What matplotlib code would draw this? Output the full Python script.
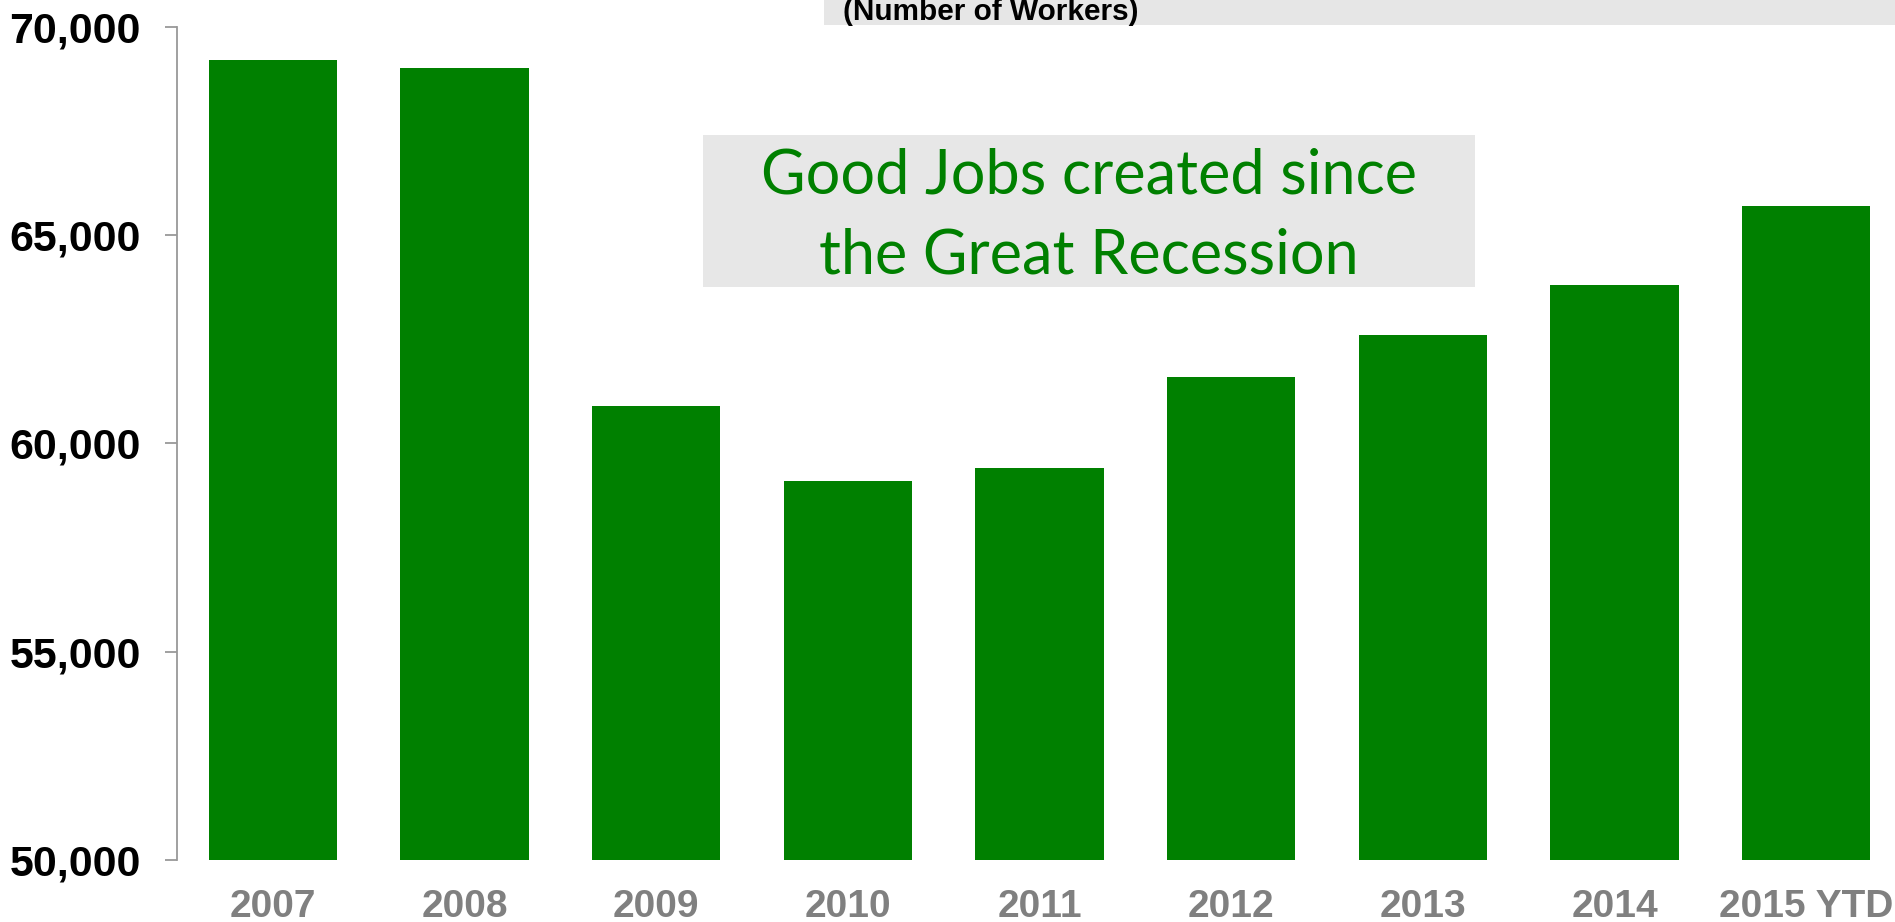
import matplotlib.pyplot as plt
from matplotlib.patches import Rectangle
from matplotlib.ticker import FuncFormatter

years = ["2007", "2008", "2009", "2010", "2011", "2012", "2013", "2014", "2015 YTD"]
workers = [69200, 69000, 60900, 59100, 59400, 61600, 62600, 63800, 65700]

W, H = 1895, 922
fig = plt.figure(figsize=(W / 100, H / 100), dpi=100)
ax = fig.add_axes([177 / W, (H - 860) / H, 1 - 177 / W, (860 - 26.7) / H])

ax.bar(range(len(years)), workers, width=0.67, color="#008000")
ax.set_ylim(50000, 70000)
ax.set_xlim(-0.5, 8.463)
ax.set_yticks([50000, 55000, 60000, 65000, 70000])
ax.yaxis.set_major_formatter(FuncFormatter(lambda v, p: f"{v:,.0f}"))
ax.set_xticks(range(len(years)))
ax.set_xticklabels(years)

for s in ["top", "right", "bottom"]:
    ax.spines[s].set_visible(False)
ax.spines["left"].set_color("#999999")
ax.spines["left"].set_linewidth(1.3)
ax.tick_params(axis="y", length=9, width=1.3, color="#999999", pad=17,
               labelsize=31)
ax.tick_params(axis="x", length=0, pad=21, labelsize=28, labelcolor="#808080")
for lab in ax.get_yticklabels():
    lab.set_fontweight("bold")
    lab.set_fontfamily("Liberation Sans")
for lab in ax.get_xticklabels():
    lab.set_fontweight("bold")
    lab.set_fontfamily("Liberation Sans")

# header strip, mostly clipped by the top edge
fig.add_artist(Rectangle((824 / W, 1 - 25 / H), 1 - 824 / W, 25 / H,
                         transform=fig.transFigure, facecolor="#e6e6e6",
                         edgecolor="none"))
fig.text(843 / W, 1 - 20 / H, "(Number of Workers)", fontsize=21.4,
         fontweight="bold", family="Liberation Sans", va="baseline",
         ha="left")

# callout box
fig.add_artist(Rectangle((703 / W, 1 - 287 / H), (1475 - 703) / W,
                         (287 - 135) / H, transform=fig.transFigure,
                         facecolor="#e7e7e7", edgecolor="none"))
fig.text(1089 / W, 1 - 176 / H, "Good Jobs created since", fontsize=44,
         family="Lato", color="#008000", ha="center", va="center")
fig.text(1089 / W, 1 - 256 / H, "the Great Recession", fontsize=44,
         family="Lato", color="#008000", ha="center", va="center")

fig.savefig("out.png", dpi=100)
